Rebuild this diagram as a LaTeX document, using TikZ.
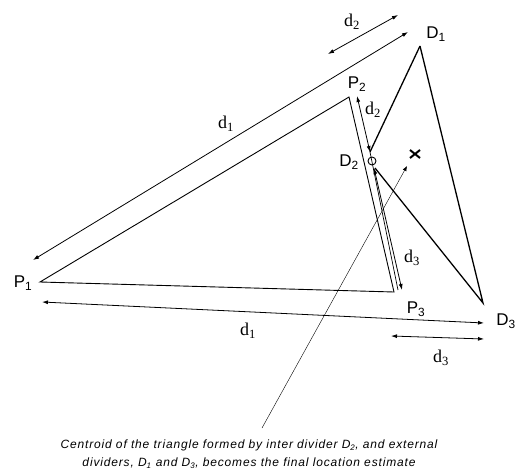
\documentclass[tikz,border=0pt]{standalone}
\usepackage{fontspec}
\setmainfont{Liberation Serif}
\setsansfont{Liberation Sans}
\usetikzlibrary{arrows.meta,calc}
\begin{document}
\begin{tikzpicture}[x=1pt,y=-1pt,
  edge/.style={line width=0.9pt},
  dedge/.style={line width=1.3pt},
  meas/.style={line width=0.8pt,{Latex[length=6pt,width=4pt]}-{Latex[length=6pt,width=4pt]}},
  plab/.style={font=\sffamily\fontsize{17}{17}\selectfont,inner sep=0pt},
  dlab/.style={font=\rmfamily\fontsize{18}{18}\selectfont,inner sep=0pt},
  captext/.style={font=\sffamily\itshape\fontsize{12}{18}\selectfont\addfontfeature{LetterSpace=7},align=center,inner sep=0pt}]
\useasboundingbox (0,0) rectangle (515,474);
% vertices
\coordinate (P1) at (40,282);
\coordinate (P2) at (349,97);
\coordinate (P3) at (394,292);
\coordinate (D1) at (420,46);
\coordinate (D2a) at (370,152);
\coordinate (D2b) at (375,168);
\coordinate (D3) at (483,303);
\coordinate (C) at (415,154);
% triangle P
\draw[edge] (P1) -- (P2) -- (P3) -- cycle;
% triangle D
\draw[dedge] (D1) -- (D2a);
\draw[dedge] (D2b) -- (D3) -- (D1);
\node[draw,circle,line width=0.9pt,minimum size=8pt,inner sep=0pt] (D2c) at (372,161) {};
% measure arrows
\coordinate (u1a) at (33,260); \coordinate (u1b) at (408,32);
\draw[meas] (u1a) -- (u1b);
\coordinate (u2a) at (328,54); \coordinate (u2b) at (398,15);
\draw[meas] (u2a) -- (u2b);
\coordinate (s2a) at (357,96); \coordinate (s2b) at (370,152);
\draw[meas] (s2a) -- (s2b);
\coordinate (s2c) at (398,290);
\draw[line width=0.7pt] (s2b) -- (s2c);
\coordinate (s3a) at (374,168); \coordinate (s3b) at (402,290);
\draw[meas] (s3a) -- (s3b);
\coordinate (l1a) at (42,302); \coordinate (l1b) at (484,323);
\draw[meas] (l1a) -- (l1b);
\coordinate (l3a) at (391,336); \coordinate (l3b) at (484,339);
\draw[meas] (l3a) -- (l3b);
% labels
\node[plab] (lP1) at (23,283) {P\textsubscript{1}};
\node[plab] (lP2) at (357,84) {P\textsubscript{2}};
\node[plab] (lP3) at (416,309) {P\textsubscript{3}};
\node[plab] (lD1) at (436,34) {D\textsubscript{1}};
\node[plab] (lD2) at (349,162) {D\textsubscript{2}};
\node[plab] (lD3) at (506,321) {D\textsubscript{3}};
\node[dlab] (ld1u) at (226,124) {d\textsubscript{1}};
\node[dlab] (ld2u) at (352,22) {d\textsubscript{2}};
\node[dlab] (ld2s) at (373,110) {d\textsubscript{2}};
\node[dlab] (ld3s) at (412,258) {d\textsubscript{3}};
\node[dlab] (ld1l) at (248,331) {d\textsubscript{1}};
\node[dlab] (ld3l) at (441,358) {d\textsubscript{3}};
% centroid
\draw[line width=2pt] ($(C)+(-5,-4)$) -- ($(C)+(5,4)$);
\draw[line width=2pt] ($(C)+(5,-4)$) -- ($(C)+(-5,4)$);
\coordinate (ptr) at (262,428);
\coordinate (ptrend) at (407,166);
\draw[line width=0.4pt,-{Latex[length=5pt,width=4pt]}] (ptr) -- (ptrend);
\node[captext] (caption) at (249,454) {Centroid of the triangle formed by inter divider D\textsubscript{2}, and external\\dividers, D\textsubscript{1} and D\textsubscript{3}, becomes the final location estimate};
\end{tikzpicture}
\end{document}
